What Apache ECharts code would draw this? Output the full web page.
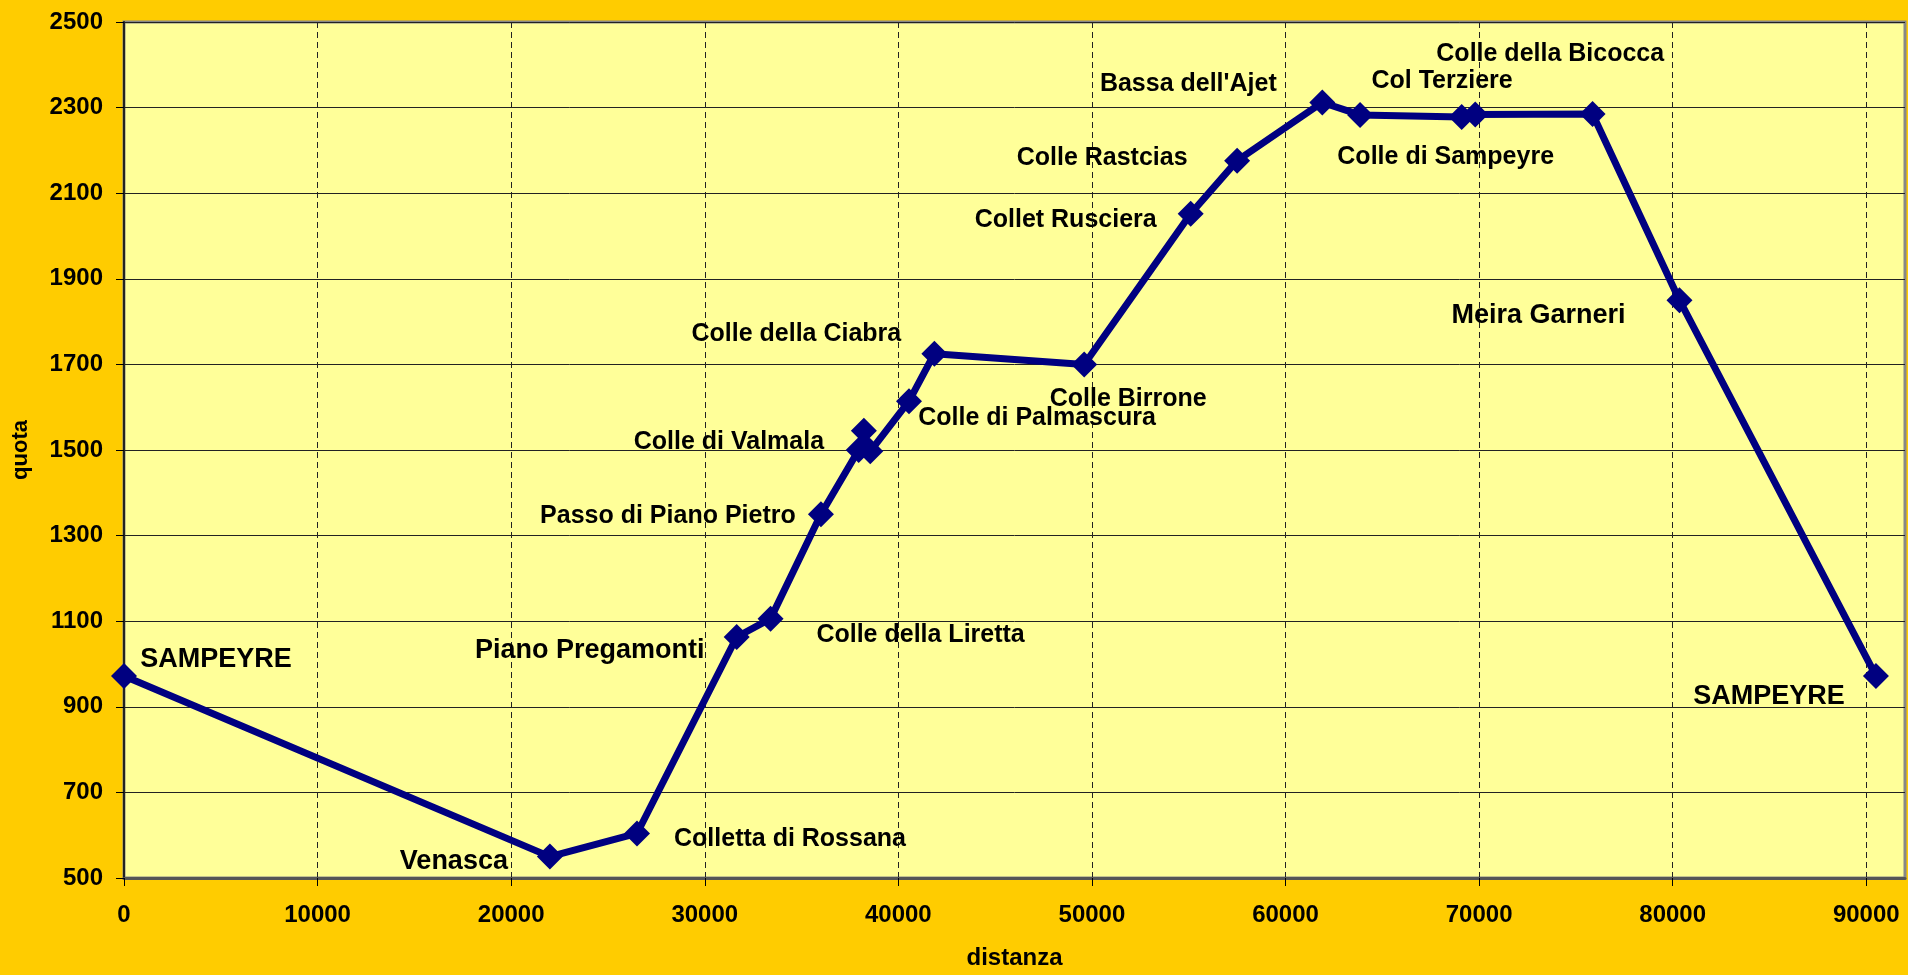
<!DOCTYPE html>
<html>
<head>
<meta charset="utf-8">
<script src="https://cdn.jsdelivr.net/npm/echarts@6/dist/echarts.min.js"></script>
<style>
html,body{margin:0;padding:0;background:#FFCC00;}
#chart{width:1908px;height:975px;}
</style>
</head>
<body>
<div id="chart"></div>
<script>
// ---- data ----
const distanza = [0, 22000, 26500, 31650, 33400, 36000, 37950, 38220, 38550, 40550, 41860, 49600, 55100, 57500, 61900, 63850, 69100, 69800, 75860, 80350, 90500];
const quota = [972, 550, 604, 1063, 1106, 1350, 1500, 1545, 1497, 1614, 1725, 1700, 2052, 2176, 2312, 2283, 2278, 2284, 2285, 1850, 972];
const nomi = ['SAMPEYRE', 'Venasca', 'Colletta di Rossana', 'Piano Pregamonti', 'Colle della Liretta', 'Passo di Piano Pietro', '', 'Colle di Valmala', '', 'Colle di Palmascura', 'Colle della Ciabra', 'Colle Birrone', 'Collet Rusciera', 'Colle Rastcias', "Bassa dell'Ajet", 'Col Terziere', 'Colle di Sampeyre', 'Colle della Bicocca', '', 'Meira Garneri', 'SAMPEYRE'];
const xTicks = [0, 10000, 20000, 30000, 40000, 50000, 60000, 70000, 80000, 90000];
const yTicks = [500, 700, 900, 1100, 1300, 1500, 1700, 1900, 2100, 2300, 2500];

// ---- label placement (styling, px offsets of label centre from point) ----
const labelOffsets = [[92,-16],[-96,5],[153,6],[-147,14],[150,16],[-153,2],null,[-135,11],null,[128,17],[-138,-20],[44,35],[-125,6],[-135,-3],[-134,-18],[82,-34],[-16,40],[75,-60],null,[-141,15],[-107,21]];
const labelSizes = [27,27,25,27,25,25,25,25,25,25,25,25,25,25,25,25,25,25,25,27,27];

const FONT = '"Liberation Sans", Arial, sans-serif';

const seriesData = distanza.map((d, i) => {
  const item = { value: [d, quota[i]], name: nomi[i] };
  if (labelOffsets[i] && nomi[i]) {
    item.label = { show: true, fontSize: labelSizes[i] };
  } else {
    item.label = { show: false };
  }
  return item;
});

const chart = echarts.init(document.getElementById('chart'), null, { renderer: 'canvas' });
chart.setOption({
  backgroundColor: '#FFCC00',
  animation: false,
  grid: {
    left: 124, top: 22, right: 3, bottom: 96,
    show: true, backgroundColor: '#FFFF99', borderColor: '#888888', borderWidth: 3
  },
  xAxis: {
    type: 'value', min: 0, max: 92000, interval: 10000,
    name: 'distanza', nameLocation: 'middle', nameGap: 68,
    nameTextStyle: { fontSize: 24, fontWeight: 'bold', fontFamily: FONT, color: '#000' },
    axisLine: { show: true, onZero: false, lineStyle: { color: '#555', width: 3 } },
    axisTick: { show: true, inside: false, length: 8, customValues: xTicks, lineStyle: { color: '#000', width: 1 } },
    axisLabel: { customValues: xTicks, margin: 25, fontSize: 24, fontWeight: 'bold', fontFamily: FONT, color: '#000', formatter: v => String(v) },
    splitLine: { show: true, lineStyle: { color: '#222', width: 1, type: [6, 4] } }
  },
  yAxis: {
    type: 'value', min: 500, max: 2500, interval: 200,
    name: 'quota', nameLocation: 'middle', nameGap: 92, nameRotate: 90,
    nameTextStyle: { fontSize: 22, fontWeight: 'bold', fontFamily: FONT, color: '#000' },
    axisLine: { show: true, onZero: false, lineStyle: { color: '#222', width: 2 } },
    axisTick: { show: true, inside: false, length: 8, customValues: yTicks, lineStyle: { color: '#000', width: 1 } },
    axisLabel: { customValues: yTicks, margin: 21, fontSize: 24, fontWeight: 'bold', fontFamily: FONT, color: '#000', formatter: v => String(v) },
    splitLine: { show: true, lineStyle: { color: '#222', width: 1, type: 'solid' } }
  },
  series: [{
    type: 'line',
    data: seriesData,
    symbol: 'diamond',
    symbolSize: 26,
    lineStyle: { color: '#000080', width: 7 },
    itemStyle: { color: '#000080' },
    label: {
      show: false, position: 'inside', formatter: '{b}',
      fontWeight: 'bold', fontFamily: FONT, color: '#000',
      align: 'center', verticalAlign: 'middle'
    },
    labelLayout: function (params) {
      const off = labelOffsets[params.dataIndex] || [0, 0];
      return { dx: off[0], dy: off[1], hideOverlap: false };
    },
    z: 3
  }]
});
</script>
</body>
</html>
